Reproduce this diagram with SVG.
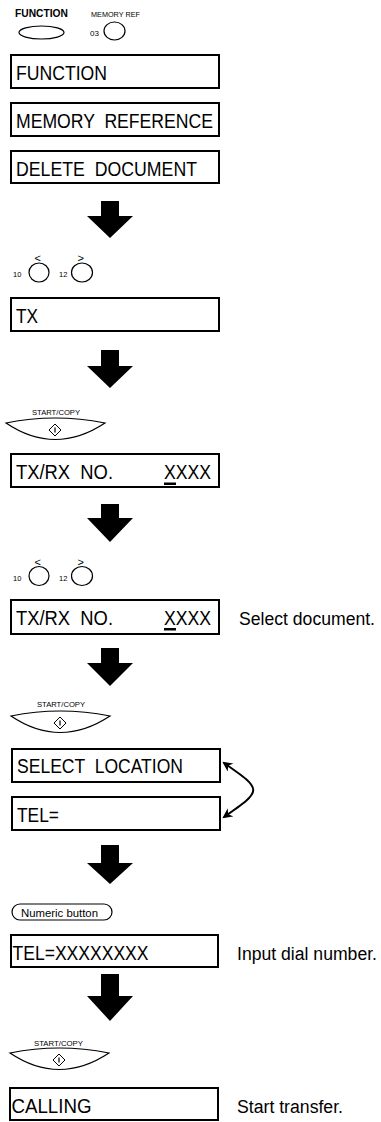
<svg xmlns="http://www.w3.org/2000/svg" width="381" height="1122" viewBox="0 0 381 1122">
<style>
text{font-family:"Liberation Sans",Arial,Helvetica,sans-serif;fill:#000}
.box{fill:#fff;stroke:#000;stroke-width:2}
.lcd{font-size:20.5px}
.desc{font-size:17.6px}
.sm{font-size:7.5px}
.btn{fill:#fff;stroke:#000;stroke-width:1.2}
.arr{fill:#000}
.chev{font-size:11px}
.conn{fill:none;stroke:#000;stroke-width:2}
</style>
<defs>
<marker id="ah" viewBox="0 0 10 10" refX="8" refY="5" markerWidth="11" markerHeight="10" markerUnits="userSpaceOnUse" orient="auto-start-reverse">
<path d="M0,0 L10,5 L0,10 L3,5 Z" fill="#000"/>
</marker>
<g id="startbtn">
<path d="M0 0 Q49 -10 99 0 Q49 33 0 0 Z" class="btn"/>
<path d="M49 1 L55 7 L49 13 L43 7 Z" fill="#fff" stroke="#000" stroke-width="1"/>
<line x1="49" y1="4.5" x2="49" y2="9.5" stroke="#000" stroke-width="1.2"/>
</g>
</defs>

<g id="function-button">
<text x="15" y="17" font-size="10.5" font-weight="bold" textLength="53" lengthAdjust="spacingAndGlyphs">FUNCTION</text>
<ellipse cx="41.5" cy="32.5" rx="22.5" ry="6.5" class="btn"/>
</g>
<g id="memoryref-button">
<text x="91" y="16.5" font-size="7" textLength="49" lengthAdjust="spacingAndGlyphs">MEMORY REF</text>
<text x="90" y="36" font-size="8">03</text>
<ellipse cx="114.5" cy="31" rx="10.5" ry="9" class="btn"/>
</g>

<g id="box-function">
<rect x="11" y="55" width="208" height="33" class="box"/>
<text x="16" y="80" class="lcd" textLength="91" lengthAdjust="spacingAndGlyphs">FUNCTION</text>
</g>
<g id="box-memref">
<rect x="11" y="103" width="208" height="33" class="box"/>
<text x="16" y="128" class="lcd" xml:space="preserve" textLength="197" lengthAdjust="spacingAndGlyphs">MEMORY  REFERENCE</text>
</g>
<g id="box-delete">
<rect x="11" y="151" width="208" height="32" class="box"/>
<text x="16" y="176" class="lcd" xml:space="preserve" textLength="181" lengthAdjust="spacingAndGlyphs">DELETE  DOCUMENT</text>
</g>

<g id="arrow-buttons-1">
<text x="34.5" y="262" class="chev">&lt;</text>
<text x="77.5" y="262" class="chev">&gt;</text>
<text x="13" y="277" class="sm">10</text>
<text x="59" y="277" class="sm">12</text>
<ellipse cx="39" cy="272.5" rx="10" ry="9.5" class="btn"/>
<ellipse cx="82" cy="272.5" rx="10.5" ry="9.5" class="btn"/>
</g>
<g id="box-tx">
<rect x="11" y="298" width="208" height="33" class="box"/>
<text x="16" y="323" class="lcd" textLength="22" lengthAdjust="spacingAndGlyphs">TX</text>
</g>

<g id="start-1">
<text x="32" y="415" class="sm" textLength="48" lengthAdjust="spacingAndGlyphs">START/COPY</text>
<use href="#startbtn" x="6" y="423"/>
</g>
<g id="box-txrx-1">
<rect x="11" y="454" width="208" height="33" class="box"/>
<text x="16" y="479" class="lcd" xml:space="preserve" textLength="97" lengthAdjust="spacingAndGlyphs">TX/RX  NO.</text>
<text x="164" y="479" class="lcd" textLength="47" lengthAdjust="spacingAndGlyphs">XXXX</text>
<rect x="164" y="482.5" width="12" height="2.5" fill="#000"/>
</g>

<g id="arrow-buttons-2">
<text x="34.5" y="566" class="chev">&lt;</text>
<text x="77.5" y="566" class="chev">&gt;</text>
<text x="13" y="580.5" class="sm">10</text>
<text x="59" y="580.5" class="sm">12</text>
<ellipse cx="39" cy="576" rx="10" ry="9.5" class="btn"/>
<ellipse cx="82" cy="576" rx="10.5" ry="9.5" class="btn"/>
</g>
<g id="box-txrx-2">
<rect x="11" y="600" width="208" height="34" class="box"/>
<text x="16" y="625" class="lcd" xml:space="preserve" textLength="97" lengthAdjust="spacingAndGlyphs">TX/RX  NO.</text>
<text x="164" y="625" class="lcd" textLength="47" lengthAdjust="spacingAndGlyphs">XXXX</text>
<rect x="164" y="628" width="12" height="2.5" fill="#000"/>
</g>
<text id="note-select" x="239" y="625" class="desc" textLength="136" lengthAdjust="spacingAndGlyphs">Select document.</text>

<g id="start-2">
<text x="37" y="707" class="sm" textLength="48" lengthAdjust="spacingAndGlyphs">START/COPY</text>
<use href="#startbtn" x="11" y="716"/>
</g>
<g id="box-select">
<rect x="12" y="749" width="208" height="33" class="box"/>
<text x="17" y="773" class="lcd" xml:space="preserve" textLength="166" lengthAdjust="spacingAndGlyphs">SELECT  LOCATION</text>
</g>
<g id="box-tel">
<rect x="12" y="797" width="208" height="33" class="box"/>
<text x="17" y="822" class="lcd" textLength="42" lengthAdjust="spacingAndGlyphs">TEL=</text>
</g>

<g id="numeric-button">
<rect x="12" y="904" width="100" height="16" rx="8" ry="8" class="btn"/>
<text x="21" y="916.5" font-size="10.5" textLength="77" lengthAdjust="spacingAndGlyphs">Numeric button</text>
</g>
<g id="box-telnum">
<rect x="11" y="935" width="207" height="32" class="box"/>
<text x="12.5" y="960" class="lcd" textLength="136" lengthAdjust="spacingAndGlyphs">TEL=XXXXXXXX</text>
</g>
<text id="note-dial" x="237" y="960" class="desc" textLength="140" lengthAdjust="spacingAndGlyphs">Input dial number.</text>

<g id="start-3">
<text x="34" y="1046" class="sm" textLength="49" lengthAdjust="spacingAndGlyphs">START/COPY</text>
<use href="#startbtn" x="10" y="1053"/>
</g>
<g id="box-calling">
<rect x="10" y="1088" width="208" height="32" class="box"/>
<text x="11.5" y="1113" class="lcd" textLength="80" lengthAdjust="spacingAndGlyphs">CALLING</text>
</g>
<text id="note-start" x="237" y="1113" class="desc" textLength="106" lengthAdjust="spacingAndGlyphs">Start transfer.</text>

<g id="connectors">
<polygon class="arr" points="101,201 119,201 119,216 133,216 110,238 87,216 101,216"/>
<polygon class="arr" points="101,350 119,350 119,366 133,366 110,388 87,366 101,366"/>
<polygon class="arr" points="101,504 119,504 119,518 133,518 110,542 87,518 101,518"/>
<polygon class="arr" points="101,648 119,648 119,663 133,663 110,686 87,663 101,663"/>
<polygon class="arr" points="101,845 119,845 119,863 133,863 110,884 87,863 101,863"/>
<polygon class="arr" points="101,974 119,974 119,996 133,996 110,1021 87,996 101,996"/>
<path class="conn" d="M224 763 C263 790 263 790 224 817" marker-start="url(#ah)" marker-end="url(#ah)"/>
</g>
</svg>
